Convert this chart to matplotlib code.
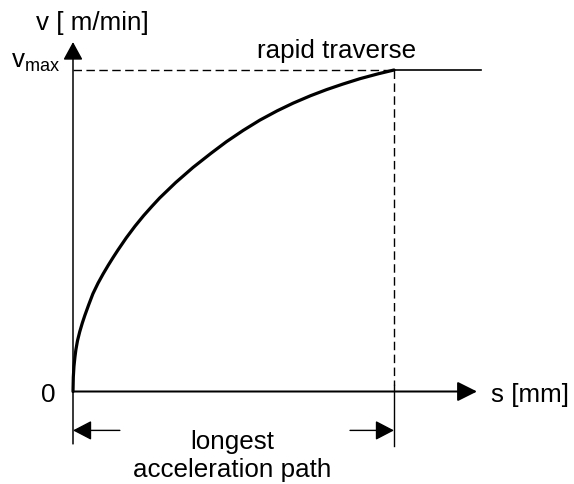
import matplotlib
matplotlib.use("Agg")
import matplotlib.pyplot as plt

plt.rcParams['font.family'] = ['Liberation Sans', 'DejaVu Sans']
plt.rcParams['mathtext.fontset'] = 'custom'
plt.rcParams['mathtext.rm'] = 'Liberation Sans'
plt.rcParams['lines.scale_dashes'] = False

# acceleration curve, s and v normalised to s_accel and v_max
s = [0, 0.001, 0.003, 0.006, 0.009, 0.014, 0.021, 0.029, 0.037, 0.049, 0.062,
     0.078, 0.094, 0.11, 0.125, 0.14, 0.166, 0.193, 0.22, 0.245, 0.27, 0.32,
     0.374, 0.43, 0.478, 0.53, 0.582, 0.636, 0.686, 0.74, 0.79, 0.84, 0.894,
     0.95, 1.0]
v = [0, 0.045, 0.078, 0.107, 0.13, 0.158, 0.186, 0.213, 0.237, 0.27, 0.304,
     0.337, 0.366, 0.393, 0.417, 0.44, 0.478, 0.514, 0.547, 0.575, 0.602, 0.65,
     0.697, 0.741, 0.777, 0.812, 0.844, 0.873, 0.897, 0.92, 0.939, 0.956, 0.973,
     0.988, 1.0]

s_end = 1.0      # end of the acceleration path
v_max = 1.0
rapid_end = 1.271
x_axis_end = 1.2586
y_axis_end = 1.087

y_label = 'v [ m/min]'
x_label = 's [mm]'
vmax_label = r'$\mathregular{v_{max}}$'
rapid_label = 'rapid traverse'
path_label = ['longest', 'acceleration path']

fs = 18.7
fig = plt.figure(figsize=(5.74, 4.85), dpi=100)
ax = fig.add_axes([0, 0, 1, 1])
ax.set_xlim(-0.22741, 1.56075)
ax.set_ylim(-0.28771, 1.22084)
ax.axis('off')


def arrow(tail, tip, lw, hl, hw):
    ax.annotate('', xy=tip, xytext=tail,
                arrowprops=dict(arrowstyle=f'-|>,head_length={hl},head_width={hw}',
                                mutation_scale=1, lw=lw, color='black',
                                shrinkA=0, shrinkB=0))


# axes with arrow heads
arrow((0, -0.163), (0, y_axis_end), 1.1, 11.0, 6.0)
arrow((0, 0), (x_axis_end, 0), 1.45, 12.0, 6.0)

# v_max level and end of acceleration
dash = (0, (6.1, 3.2))
ax.plot([0, s_end], [v_max, v_max], color='black', lw=1.0, ls=dash)
ax.plot([s_end, s_end], [v_max, 0.02], color='black', lw=1.0, ls=dash)
ax.plot([s_end, s_end], [0.02, -0.170], color='black', lw=1.0)
ax.plot([s_end, rapid_end], [v_max, v_max], color='black', lw=1.2)

# curve
ax.plot(s, v, color='black', lw=2.3, solid_capstyle='round', solid_joinstyle='round')

# dimension arrows for the acceleration path
dim_y = -0.121
arrow((0.146, dim_y), (0, dim_y), 1.0, 11.5, 6.0)
arrow((0.863, dim_y), (s_end, dim_y), 1.0, 11.5, 6.0)

# labels
ax.text(-0.1146, 1.129, y_label, fontsize=fs, ha='left', va='baseline')
ax.text(-0.0405, 1.009, vmax_label, fontsize=fs, ha='right', va='baseline')
ax.text(0.822, 1.0395, rapid_label, fontsize=fs, ha='center', va='baseline')
ax.text(-0.0779, -0.0295, '0', fontsize=fs, ha='center', va='baseline')
ax.text(1.301, -0.031, x_label, fontsize=fs, ha='left', va='baseline')
ax.text(0.4953, -0.1746, path_label[0], fontsize=fs, ha='center', va='baseline')
ax.text(0.4953, -0.2616, path_label[1], fontsize=fs, ha='center', va='baseline')

fig.savefig('out.png', dpi=100)
